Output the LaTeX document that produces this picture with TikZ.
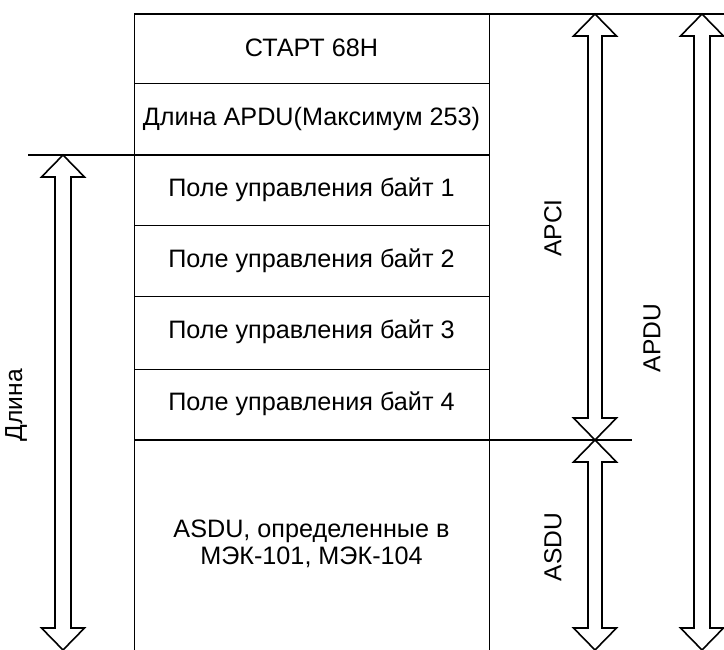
\documentclass[tikz,border=0pt]{standalone}
\usepackage{fontspec}
\setmainfont{Liberation Sans}
\newcommand\hollowarr[4]{%
  \draw[harrow] (#1,#2) -- (#1+21.5,#2+22) -- (#1+#4,#2+22) -- (#1+#4,#3-22) -- (#1+21.5,#3-22) -- (#1,#3)
    -- (#1-21.5,#3-22) -- (#1-#4,#3-22) -- (#1-#4,#2+22) -- (#1-21.5,#2+22) -- cycle;}
\begin{document}
\begin{tikzpicture}[x=1pt,y=-1pt,line width=1pt,
  cell/.style={font=\fontsize{25.2}{27.5}\selectfont,align=center,inner sep=0pt},
  lbl/.style={font=\fontsize{24.6}{27}\selectfont,rotate=90,inner sep=0pt},
  harrow/.style={line width=1.6pt,line join=miter},
  rule/.style={line width=1.2pt}]
\useasboundingbox (0,0) rectangle (724,650);
% table frame
\draw (134,14) -- (134,650);
\draw (489,14) -- (489,650);
\foreach \y in {84,155,226,297,369} \draw (134,\y) -- (489,\y);
% long rules
\draw[rule] (134,14) -- (724,14);
\draw[rule] (28,155) -- (489,155);
\draw[rule] (134,440) -- (632,440);
% cells
\node[cell] (r1) at (311.5,48) {СТАРТ 68H};
\node[cell] (r2) at (311.5,119) {Длина APDU(Максимум 253)};
\node[cell] (r3) at (311.5,189.5) {Поле управления байт 1};
\node[cell] (r4) at (311.5,260.5) {Поле управления байт 2};
\node[cell] (r5) at (311.5,332) {Поле управления байт 3};
\node[cell] (r6) at (311.5,403.5) {Поле управления байт 4};
\node[cell] (r7) at (311.5,544) {ASDU, определенные в\\МЭК-101, МЭК-104};
% arrows
\hollowarr{63}{155}{650}{8}
\hollowarr{595}{14}{440}{7}
\hollowarr{595}{440}{650}{7}
\hollowarr{702}{14}{650}{8}
% labels
\node[lbl] (ldl) at (16,405) {Длина};
\node[lbl] (lapci) at (553,228) {APCI};
\node[lbl] (lasdu) at (553,547) {ASDU};
\node[lbl] (lapdu) at (652,338) {APDU};
\end{tikzpicture}
\end{document}
